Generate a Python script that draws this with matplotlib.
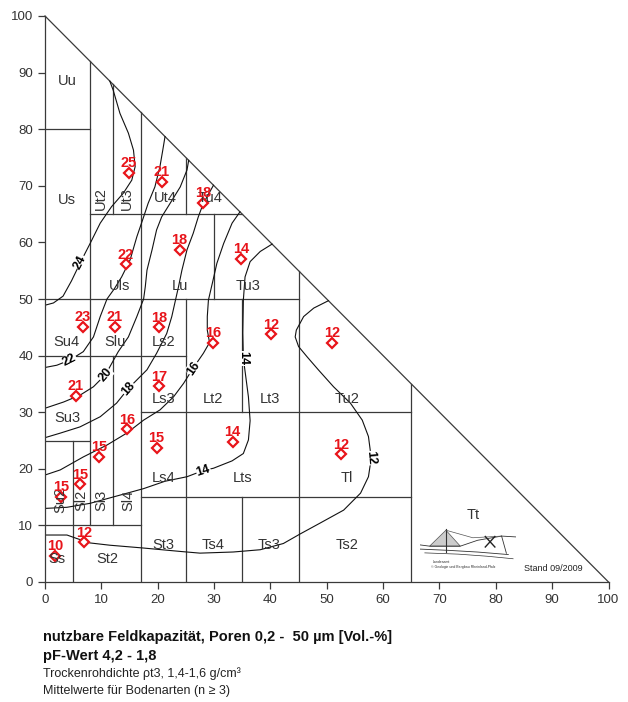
import numpy as np
import matplotlib.pyplot as plt
from matplotlib.patches import Polygon

plt.rcParams['font.family'] = ['Liberation Sans', 'DejaVu Sans']

# mean values per soil class (clay %, silt %, nFK Vol.-%)
pts_clay = [14.9, 20.7, 28.1, 14.3, 23.9, 34.8, 6.7, 12.4, 20.3, 29.9, 40.1, 51.0,
            20.2, 5.5, 14.5, 19.8, 33.3, 52.5, 9.6, 6.2, 2.8, 6.9, 1.8]
pts_silt = [72.3, 70.7, 67.0, 56.1, 58.7, 57.1, 45.1, 45.1, 45.0, 42.3, 43.8, 42.3,
            34.6, 32.9, 27.0, 23.7, 24.8, 22.6, 22.1, 17.3, 15.1, 7.0, 4.6]
pts_nfk = [25, 21, 18, 22, 18, 14, 23, 21, 18, 16, 12, 12,
           17, 21, 16, 15, 14, 12, 15, 15, 15, 12, 10]

# class boundaries (x0, y0, x1, y1)
boundaries = [
    (5, 0, 5, 25), (8, 10, 8, 92), (12, 10, 12, 40), (12, 65, 12, 88),
    (17, 0, 17, 83), (25, 0, 25, 50), (25, 65, 25, 75), (30, 50, 30, 65),
    (35, 0, 35, 15), (35, 30, 35, 50), (45, 0, 45, 55), (65, 0, 65, 35),
    (0, 10, 17, 10), (17, 15, 65, 15), (0, 25, 8, 25), (17, 30, 65, 30),
    (0, 40, 25, 40), (0, 50, 45, 50), (8, 65, 35, 65), (0, 80, 8, 80),
]

# soil class names: (name, clay, silt, rotation)
classes = [
    ("Uu", 4, 88.5, 0), ("Us", 3.8, 67.5, 0), ("Ut2", 9.9, 67.8, 90),
    ("Ut3", 14.6, 67.8, 90), ("Ut4", 21.3, 67.8, 0), ("Tu4", 29.3, 67.8, 0),
    ("Uls", 13.3, 52.3, 0), ("Lu", 24.0, 52.3, 0), ("Tu3", 36.0, 52.3, 0),
    ("Su4", 3.8, 42.4, 0), ("Slu", 12.4, 42.4, 0), ("Ls2", 21.0, 42.4, 0),
    ("Su3", 4.0, 29.0, 0), ("Ls3", 21.0, 32.3, 0), ("Lt2", 29.8, 32.3, 0),
    ("Lt3", 40.0, 32.3, 0), ("Ls4", 21.0, 18.4, 0), ("Lts", 35.0, 18.4, 0),
    ("Su2", 2.7, 14.5, 90), ("Sl2", 6.5, 14.5, 90), ("Sl3", 10.0, 14.5, 90),
    ("Sl4", 14.8, 14.5, 90), ("Ss", 2.1, 4.1, 0), ("St2", 11.0, 4.1, 0),
    ("St3", 21.0, 6.5, 0), ("Ts4", 29.8, 6.5, 0), ("Ts3", 39.7, 6.5, 0),
    ("Ts2", 53.6, 6.5, 0), ("Tu2", 53.6, 32.3, 0), ("Tl", 53.6, 18.4, 0),
    ("Tt", 76.0, 11.8, 0),
]

# isolines (clay, silt)
iso_24 = [(0, 48.9), (1.5, 49.3), (3.2, 50.5), (4.7, 53.2), (6.3, 56.5), (8, 59.8),
          (9.8, 63.4), (11.8, 66.3), (13.9, 68.7), (15.4, 71), (16, 73.4), (15.7, 76.3),
          (14.8, 79.3), (13.3, 82.8), (12.1, 86.9), (11.5, 88.5)]
iso_22 = [(0, 37.9), (2.1, 38.3), (4.4, 39.2), (6.8, 40.7), (8.6, 43.3), (9.8, 46.9),
          (11, 50), (12.3, 51.8), (13.6, 53.9), (15.1, 56.9), (16.3, 61), (17.5, 64.5),
          (18.3, 66.9), (19.5, 69.8), (20.4, 73.4), (20.9, 76.3), (21.3, 78.7)]
iso_20 = [(0, 30.7), (3.3, 31.8), (6.2, 33), (8.6, 34.5), (10.7, 36.6), (11.5, 38),
          (13, 40.7), (14.8, 43.3), (16.3, 46.9), (17.5, 50), (17.8, 52.2), (18.1, 55.1),
          (19, 58.7), (19.8, 62.2), (20.7, 64.5), (22.2, 66.9), (24, 69.8), (25.2, 72.8),
          (25.5, 74.5)]
iso_18 = [(0, 25.5), (2.7, 26.3), (6.2, 27.4), (9.8, 29.2), (12.7, 31.6), (14.8, 34.2),
          (16.3, 35.7), (18.1, 37.5), (19.8, 40.4), (21.6, 43.9), (22.5, 46.9), (23.2, 50),
          (23.7, 52.2), (24.3, 55.1), (25.2, 58.7), (26.3, 61.6), (27.2, 64.5),
          (28.1, 66.9), (29.9, 70.1)]
iso_16 = [(0, 18.9), (2.7, 19.8), (6.8, 22.1), (11, 24.2), (14.5, 26.3), (17.5, 28.6),
          (20.4, 30.4), (22.8, 32.7), (24.6, 35.1), (26.3, 37.8), (28.1, 40.4),
          (29.2, 42.3), (28.8, 44.5), (28.8, 46.9), (29, 49.8), (29.7, 52.8), (30.5, 56.3),
          (31.7, 59.8), (33.2, 63.4), (34.6, 65.4)]
iso_14 = [(0, 13), (3.9, 13.2), (8, 13.9), (12.4, 15.1), (17.5, 16.5), (21.3, 17.8),
          (25.2, 18.6), (28.1, 19.7), (29.9, 20.1), (33.2, 21.4), (35.2, 22.7),
          (36.1, 25.1), (36.4, 28.5), (36.1, 32.7), (35.6, 36.5), (35.2, 39.5),
          (35.1, 44), (35.2, 49.8), (35.5, 53.9), (36.4, 56.6), (38.2, 58.4), (40.3, 59.7)]
iso_12 = [(0, 8.3), (3.9, 8.3), (5.6, 7.7), (8, 6.9), (11.5, 6.5), (17.5, 6), (24, 5.4),
          (27.5, 5.1), (33.4, 5.3), (38.2, 5.7), (42.3, 6.8), (45.3, 8.5), (48.8, 10.4),
          (53, 12.7), (56, 15.7), (57.4, 18.6), (57.9, 21.9), (57.4, 25.7), (56.3, 28.6),
          (54.2, 31.6), (51.2, 34.5), (48.5, 37.5), (46.5, 39.8), (45, 41.6), (44.4, 43.3),
          (44.6, 44.5), (45.9, 46.9), (47.7, 48.4), (50.3, 49.7)]
isolines = [iso_24, iso_22, iso_20, iso_18, iso_16, iso_14, iso_12]

# isoline labels (text, clay, silt, rotation)
iso_labels = [("24", 6.3, 56.5, 63), ("22", 4.4, 39.2, 27), ("20", 10.7, 36.6, 50),
              ("18", 14.8, 34.2, 49), ("16", 26.3, 37.8, 56), ("14", 35.2, 39.5, -90),
              ("14", 28.1, 19.7, 18), ("12", 57.9, 21.9, -85)]

fig = plt.figure(figsize=(6.28, 7.02), dpi=100)
ax = fig.add_axes([45 / 628, 120 / 702, 563.5 / 628, 566 / 702])
ax.set_xlim(0, 100)
ax.set_ylim(0, 100)

edge = '#3a3a3a'
for x0, y0, x1, y1 in boundaries:
    ax.plot([x0, x1], [y0, y1], color=edge, lw=0.9)
ax.plot([0, 100], [100, 0], color=edge, lw=0.9, clip_on=False)

for line in isolines:
    xy = np.array(line)
    ax.plot(xy[:, 0], xy[:, 1], color='#111111', lw=0.8)

for txt, x, y, rot in iso_labels:
    ax.text(x, y, txt, rotation=rot, ha='center', va='center',
            fontsize=9, fontweight='bold', color='black', rotation_mode='anchor',
            bbox=dict(facecolor='white', edgecolor='none', pad=0.2))

for name, x, y, rot in classes:
    ax.text(x, y, name, rotation=rot, ha='center', va='center', fontsize=10.5,
            color='#333333')

red = '#e8141a'
ax.plot(pts_clay, pts_silt, 'D', ms=5, mfc='white', mec=red, mew=1.6, ls='none')
for x, y, v in zip(pts_clay, pts_silt, pts_nfk):
    ax.annotate(str(v), (x, y), xytext=(0, 4), textcoords='offset points',
                ha='center', va='baseline', fontsize=10.5, fontweight='bold', color=red)

ax.text(90.2, 2.3, "Stand 09/2009", ha='center', va='center', fontsize=6.5, color='#222222')

# logo
lg = fig.add_axes([420 / 628, 134 / 702, 96 / 628, 42 / 702])
lg.set_xlim(0, 1)
lg.set_ylim(0, 1)
lg.axis('off')
lg.add_patch(Polygon([(0.1, 0.52), (0.27, 0.9), (0.42, 0.52)], closed=True,
                     facecolor='#cccccc', edgecolor='#555555', lw=0.5))
lg.plot([0.27, 0.27], [0.38, 0.92], color='#333333', lw=0.8)
lg.plot([0.0, 0.1, 0.42, 0.6, 0.85, 1.0], [0.55, 0.52, 0.52, 0.66, 0.76, 0.74],
        color='#333333', lw=0.6)
lg.plot([0.27, 0.55, 0.85], [0.9, 0.72, 0.76], color='#555555', lw=0.5)
lg.plot([0.85, 0.9], [0.76, 0.35], color='#333333', lw=0.6)
lg.plot([0.0, 0.3, 0.6, 0.92], [0.45, 0.42, 0.38, 0.32], color='#333333', lw=0.6)
lg.plot([0.05, 0.4, 0.7, 0.97], [0.36, 0.33, 0.28, 0.22], color='#333333', lw=0.5)
lg.plot([0.68, 0.78], [0.5, 0.75], color='#222222', lw=1.0)
lg.plot([0.68, 0.78], [0.75, 0.5], color='#222222', lw=1.0)
lg.text(0.22, 0.13, "Landesamt", fontsize=2.5, ha='center', color='#333333')
lg.text(0.45, 0.0, "\u00a9 Geologie und Bergbau Rheinland-Pfalz", fontsize=2.5,
        ha='center', color='#333333')

ax.spines['top'].set_visible(False)
ax.spines['right'].set_visible(False)
for s in ('left', 'bottom'):
    ax.spines[s].set_color(edge)
    ax.spines[s].set_linewidth(0.9)
ax.set_xticks(np.arange(0, 101, 10))
ax.set_yticks(np.arange(0, 101, 10))
ax.tick_params(direction='out', length=5, width=0.9, colors=edge, labelsize=9.5,
               labelcolor='#333333')

fig.text(43 / 628, 1 - 637 / 702, "nutzbare Feldkapazität, Poren 0,2 -  50 µm [Vol.-%]",
         fontsize=10.5, fontweight='bold', va='center', color='#111111')
fig.text(43 / 628, 1 - 656 / 702, "pF-Wert 4,2 - 1,8", fontsize=10.5, fontweight='bold',
         va='center', color='#111111')
fig.text(43 / 628, 1 - 674 / 702, "Trockenrohdichte ρt3, 1,4-1,6 g/cm³", fontsize=9,
         va='center', color='#222222')
fig.text(43 / 628, 1 - 691 / 702, "Mittelwerte für Bodenarten (n ≥ 3)", fontsize=9,
         va='center', color='#222222')

fig.savefig('out.png', dpi=100)
